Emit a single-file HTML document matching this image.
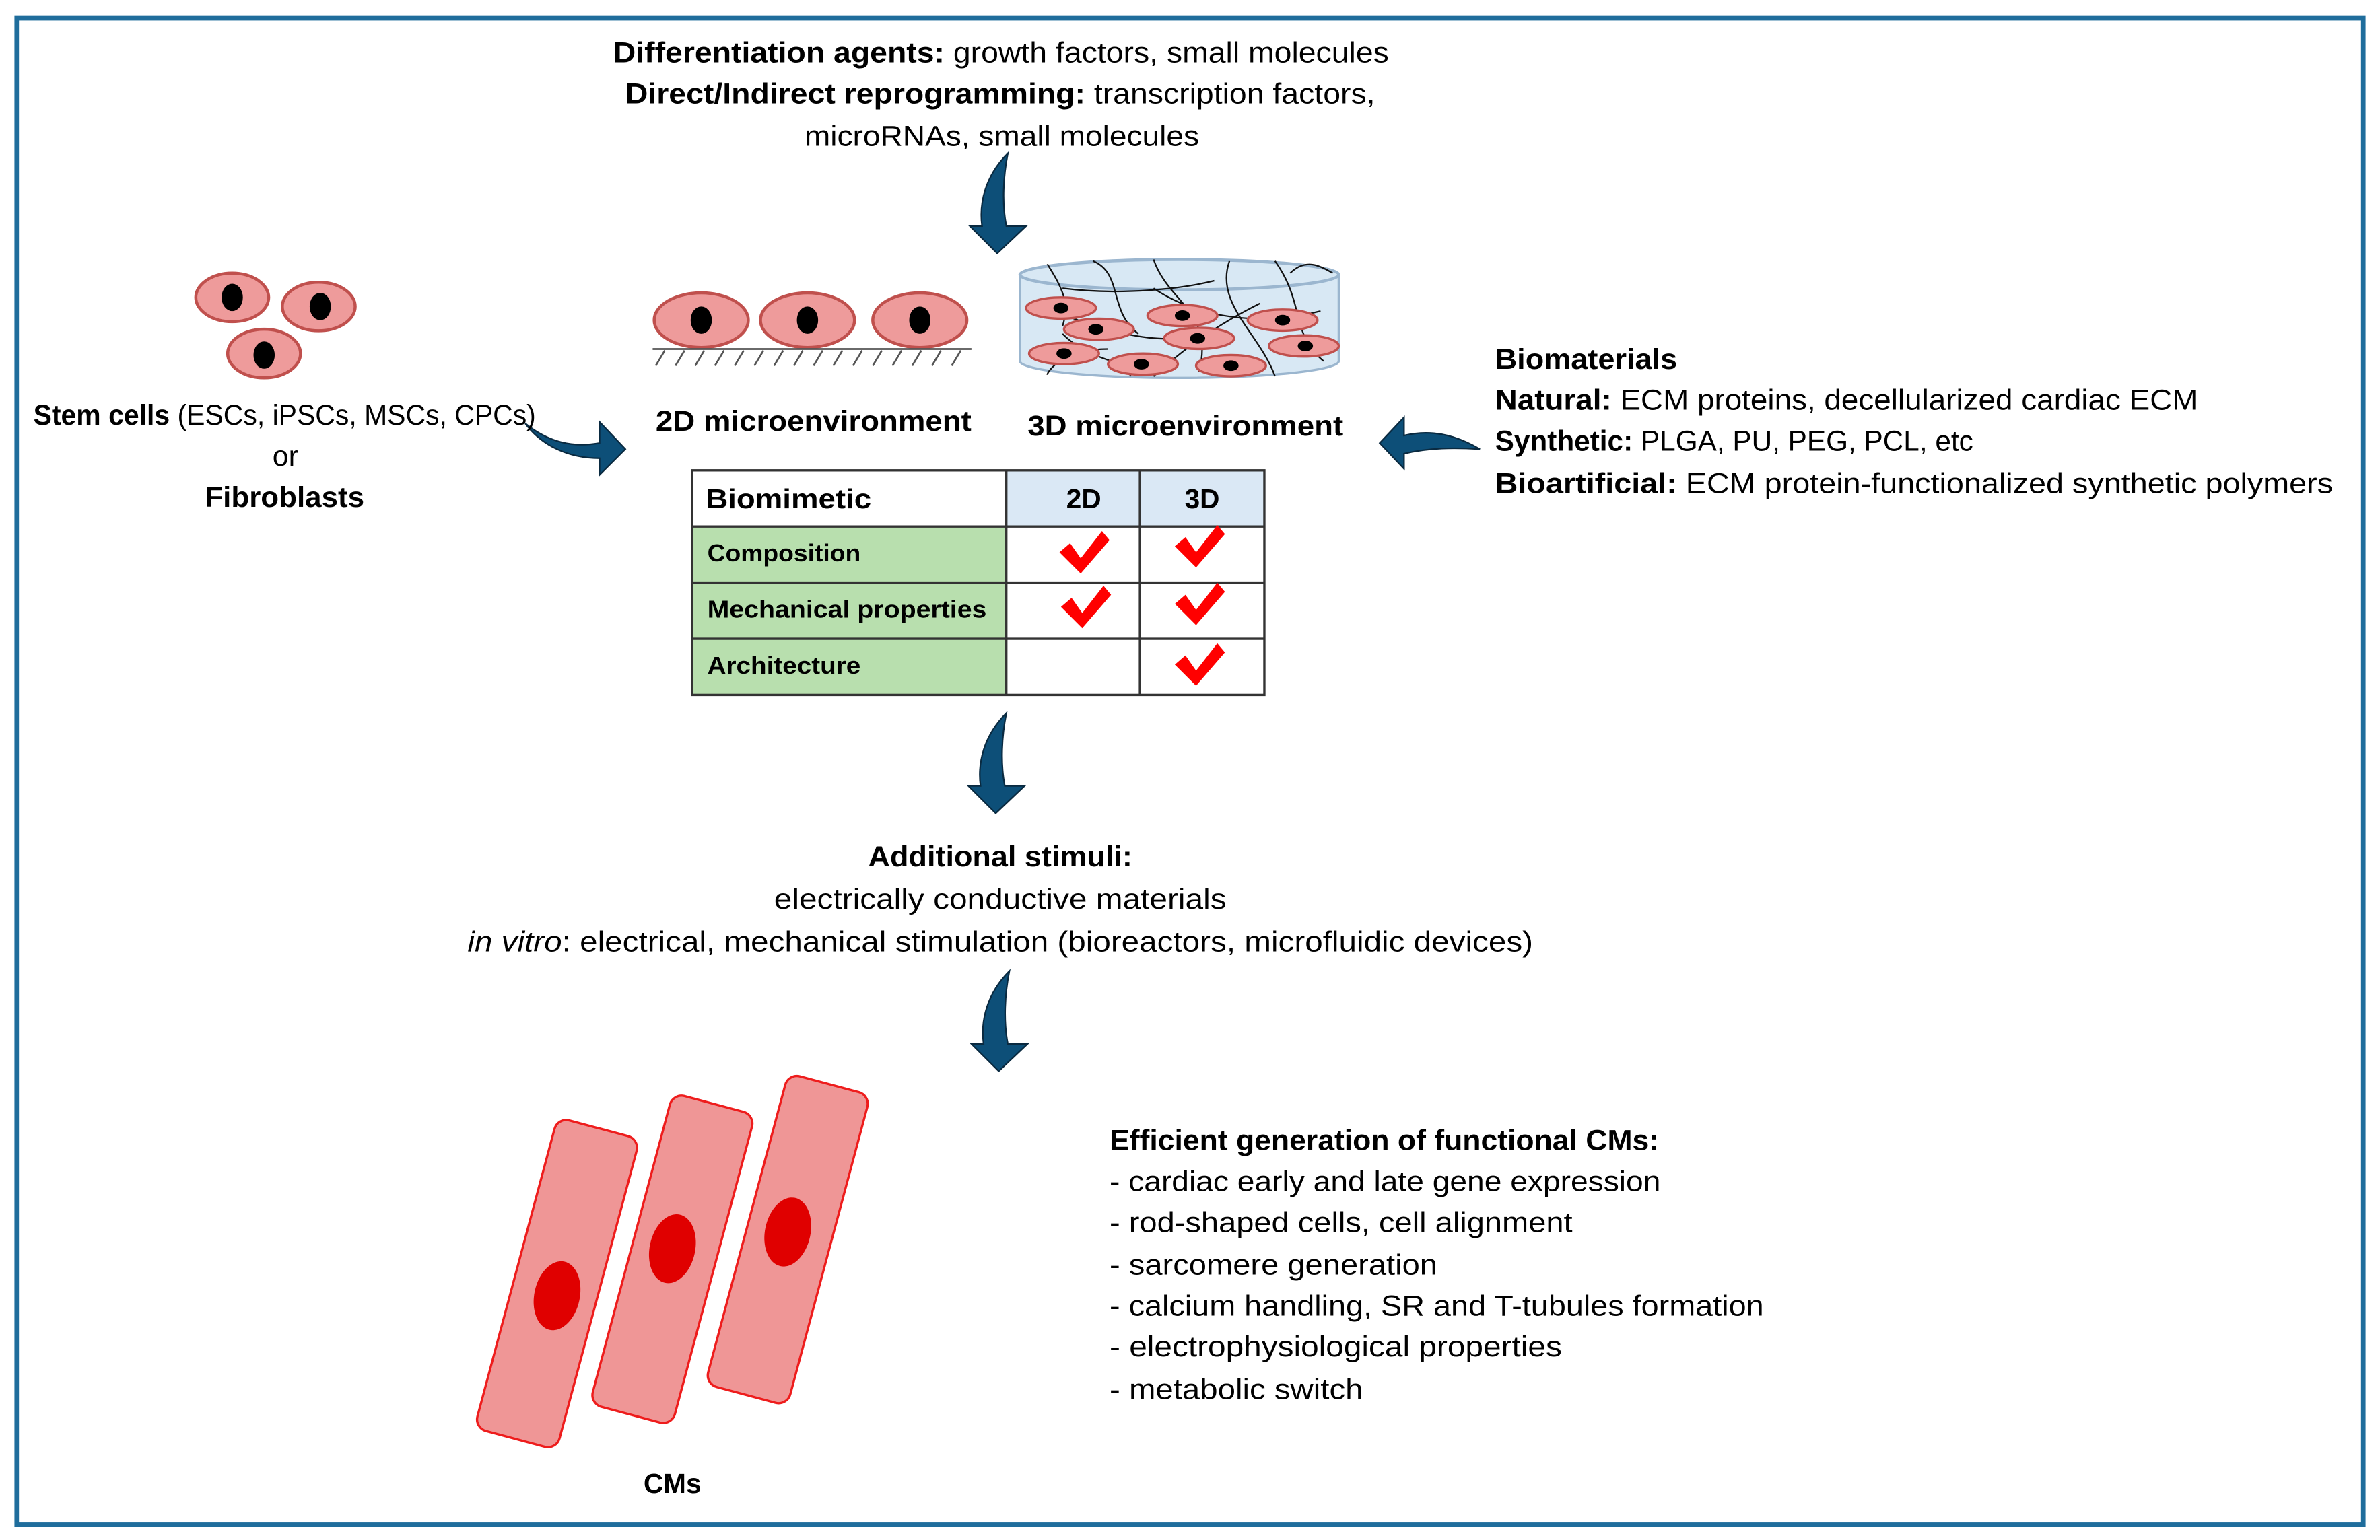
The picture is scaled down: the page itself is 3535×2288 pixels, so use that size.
<!DOCTYPE html>
<html><head><meta charset="utf-8">
<style>
html,body{margin:0;padding:0;background:#fff;}
svg{display:block;}
text{font-family:"Liberation Sans",sans-serif;fill:#000;}
</style></head>
<body>
<svg width="3535" height="2288" viewBox="0 0 1568 1015" preserveAspectRatio="none" xmlns="http://www.w3.org/2000/svg">
<defs>
<path id="darr" d="M664,101 C649,116 645,134 647,149 L639,149 L657,167 L676,149 L663,149 C660,134 661,116 664,101 Z"/>
<path id="chk" d="M-16,-2 L-9,-8 L-2,2 L12,-16 L17,-10 L-2,12 Z"/>
</defs>
<rect x="0" y="0" width="1568" height="1015" fill="#fff"/>
<rect x="11" y="12" width="1546" height="993" fill="none" stroke="#1f6d9c" stroke-width="3"/>

<text x="404" y="41" font-size="19" textLength="511" lengthAdjust="spacingAndGlyphs"><tspan font-weight="bold">Differentiation agents:</tspan> growth factors, small molecules</text>
<text x="412" y="68" font-size="19" textLength="494" lengthAdjust="spacingAndGlyphs"><tspan font-weight="bold">Direct/Indirect reprogramming:</tspan> transcription factors,</text>
<text x="530" y="96" font-size="19" textLength="260" lengthAdjust="spacingAndGlyphs">microRNAs, small molecules</text>

<g fill="#0d4f78" stroke="#0a2a40" stroke-width="1">
<use href="#darr"/>
<use href="#darr" transform="translate(-1,369)"/>
<use href="#darr" transform="translate(1,539)"/>
<path d="M346,279 C362,292 378,295 395,292 L395,278 L412,296 L395,313 L395,302 C375,302 357,294 346,279 Z"/>
<path d="M975,296 C958,286 942,283 925,287 L925,275 L909,292 L925,309 L925,299 C942,295 958,295 975,296 Z"/>
</g>

<g fill="#ee9b9b" stroke="#c0504d" stroke-width="2">
<ellipse cx="153" cy="196" rx="24" ry="16"/>
<ellipse cx="210" cy="202" rx="24" ry="16"/>
<ellipse cx="174" cy="233" rx="24" ry="16"/>
</g>
<g fill="#000">
<ellipse cx="153" cy="196" rx="7" ry="9"/>
<ellipse cx="211" cy="202" rx="7" ry="9"/>
<ellipse cx="174" cy="234" rx="7" ry="9"/>
</g>
<text x="22" y="280" font-size="19" textLength="331" lengthAdjust="spacingAndGlyphs"><tspan font-weight="bold">Stem cells</tspan> (ESCs, iPSCs, MSCs, CPCs)</text>
<text x="188" y="307" font-size="19" text-anchor="middle">or</text>
<text x="135" y="334" font-size="19" font-weight="bold" textLength="105" lengthAdjust="spacingAndGlyphs">Fibroblasts</text>

<g fill="#ee9b9b" stroke="#c0504d" stroke-width="2">
<ellipse cx="462" cy="211" rx="31" ry="18"/>
<ellipse cx="532" cy="211" rx="31" ry="18"/>
<ellipse cx="606" cy="211" rx="31" ry="18"/>
</g>
<g fill="#000">
<ellipse cx="462" cy="211" rx="7" ry="9"/>
<ellipse cx="532" cy="211" rx="7" ry="9"/>
<ellipse cx="606" cy="211" rx="7" ry="9"/>
</g>
<g stroke="#555" stroke-width="1.2">
<line x1="430" y1="230" x2="640" y2="230"/>
<path d="M432,241 L438,231 M445,241 L451,231 M458,241 L464,231 M471,241 L477,231 M484,241 L490,231 M497,241 L503,231 M510,241 L516,231 M523,241 L529,231 M536,241 L542,231 M549,241 L555,231 M562,241 L568,231 M575,241 L581,231 M588,241 L594,231 M601,241 L607,231 M614,241 L620,231 M627,241 L633,231"/>
</g>
<text x="432" y="284" font-size="19" font-weight="bold" textLength="208" lengthAdjust="spacingAndGlyphs">2D microenvironment</text>

<path d="M672,181 L672,238 A105,11 0 0 0 882,238 L882,181 Z" fill="#d8e8f4" stroke="#9bb6cf" stroke-width="1.5"/>
<ellipse cx="777" cy="181" rx="105" ry="10" fill="#d8e8f4" stroke="#9bb6cf" stroke-width="2"/>
<g fill="none" stroke="#111" stroke-width="1">
<path d="M690,174 C700,190 705,200 700,215"/>
<path d="M720,172 C740,180 730,205 750,220"/>
<path d="M760,171 C770,200 800,205 790,245"/>
<path d="M700,190 C740,195 780,190 800,185"/>
<path d="M810,172 C800,200 830,220 840,248"/>
<path d="M840,172 C860,200 850,220 872,238"/>
<path d="M680,200 C720,215 760,230 790,220"/>
<path d="M830,200 C800,215 780,230 760,248"/>
<path d="M700,220 C720,240 740,235 745,248"/>
<path d="M760,190 C790,210 830,215 870,205"/>
<path d="M850,180 C860,170 870,175 878,180"/>
<path d="M730,230 C700,230 690,245 690,247"/>
</g>
<g fill="#ee9b9b" stroke="#c0504d" stroke-width="1.5">
<ellipse cx="699" cy="203" rx="23" ry="7"/>
<ellipse cx="724" cy="217" rx="23" ry="7"/>
<ellipse cx="779" cy="208" rx="23" ry="7"/>
<ellipse cx="845" cy="211" rx="23" ry="7"/>
<ellipse cx="701" cy="233" rx="23" ry="7"/>
<ellipse cx="790" cy="223" rx="23" ry="7"/>
<ellipse cx="859" cy="228" rx="23" ry="7"/>
<ellipse cx="753" cy="240" rx="23" ry="7"/>
<ellipse cx="811" cy="241" rx="23" ry="7"/>
</g>
<g fill="#000">
<ellipse cx="699" cy="203" rx="5" ry="3.5"/>
<ellipse cx="722" cy="217" rx="5" ry="3.5"/>
<ellipse cx="779" cy="208" rx="5" ry="3.5"/>
<ellipse cx="845" cy="211" rx="5" ry="3.5"/>
<ellipse cx="701" cy="233" rx="5" ry="3.5"/>
<ellipse cx="789" cy="223" rx="5" ry="3.5"/>
<ellipse cx="860" cy="228" rx="5" ry="3.5"/>
<ellipse cx="752" cy="240" rx="5" ry="3.5"/>
<ellipse cx="811" cy="241" rx="5" ry="3.5"/>
</g>
<text x="677" y="287" font-size="19" font-weight="bold" textLength="208" lengthAdjust="spacingAndGlyphs">3D microenvironment</text>

<text x="985" y="243" font-size="19" font-weight="bold" textLength="120" lengthAdjust="spacingAndGlyphs">Biomaterials</text>
<text x="985" y="270" font-size="19" textLength="463" lengthAdjust="spacingAndGlyphs"><tspan font-weight="bold">Natural:</tspan> ECM proteins, decellularized cardiac ECM</text>
<text x="985" y="297" font-size="19" textLength="315" lengthAdjust="spacingAndGlyphs"><tspan font-weight="bold">Synthetic:</tspan> PLGA, PU, PEG, PCL, etc</text>
<text x="985" y="325" font-size="19" textLength="552" lengthAdjust="spacingAndGlyphs"><tspan font-weight="bold">Bioartificial:</tspan> ECM protein-functionalized synthetic polymers</text>

<rect x="663" y="310" width="170" height="37" fill="#dae8f5"/>
<rect x="456" y="347" width="207" height="111" fill="#b8dfae"/>
<g stroke="#333" stroke-width="1.5" fill="none">
<rect x="456" y="310" width="377" height="148"/>
<line x1="456" y1="347" x2="833" y2="347"/>
<line x1="456" y1="384" x2="833" y2="384"/>
<line x1="456" y1="421" x2="833" y2="421"/>
<line x1="663" y1="310" x2="663" y2="458"/>
<line x1="751" y1="310" x2="751" y2="458"/>
</g>
<text x="465" y="335" font-size="18" font-weight="bold" textLength="109" lengthAdjust="spacingAndGlyphs">Biomimetic</text>
<text x="714" y="335" font-size="18" font-weight="bold" text-anchor="middle">2D</text>
<text x="792" y="335" font-size="18" font-weight="bold" text-anchor="middle">3D</text>
<text x="466" y="370" font-size="16" font-weight="bold" textLength="101" lengthAdjust="spacingAndGlyphs">Composition</text>
<text x="466" y="407" font-size="16" font-weight="bold" textLength="184" lengthAdjust="spacingAndGlyphs">Mechanical properties</text>
<text x="466" y="444" font-size="16" font-weight="bold" textLength="101" lengthAdjust="spacingAndGlyphs">Architecture</text>
<g fill="#f00">
<use href="#chk" transform="translate(714,366)"/>
<use href="#chk" transform="translate(790,362)"/>
<use href="#chk" transform="translate(715,402)"/>
<use href="#chk" transform="translate(790,400)"/>
<use href="#chk" transform="translate(790,440)"/>
</g>

<text x="572" y="571" font-size="19" font-weight="bold" textLength="174" lengthAdjust="spacingAndGlyphs">Additional stimuli:</text>
<text x="510" y="599" font-size="19" textLength="298" lengthAdjust="spacingAndGlyphs">electrically conductive materials</text>
<text x="308" y="627" font-size="19" textLength="702" lengthAdjust="spacingAndGlyphs"><tspan font-style="italic">in vitro</tspan>: electrical, mechanical stimulation (bioreactors, microfluidic devices)</text>

<g fill="#ef9696" stroke="#ee1c1c" stroke-width="1.5">
<rect x="-28" y="-106" width="56" height="212" rx="8" transform="translate(367,846) rotate(15)"/>
<rect x="-28" y="-106" width="56" height="212" rx="8" transform="translate(443,830) rotate(15)"/>
<rect x="-28" y="-106" width="56" height="212" rx="8" transform="translate(519,817) rotate(15)"/>
</g>
<g fill="#e00000">
<ellipse cx="367" cy="854" rx="15" ry="23" transform="rotate(12 367 854)"/>
<ellipse cx="443" cy="823" rx="15" ry="23" transform="rotate(12 443 823)"/>
<ellipse cx="519" cy="812" rx="15" ry="23" transform="rotate(12 519 812)"/>
</g>
<text x="443" y="984" font-size="18" font-weight="bold" text-anchor="middle">CMs</text>

<text x="731" y="758" font-size="19" font-weight="bold" textLength="362" lengthAdjust="spacingAndGlyphs">Efficient generation of functional CMs:</text>
<text x="731" y="785" font-size="19" textLength="363" lengthAdjust="spacingAndGlyphs">- cardiac early and late gene expression</text>
<text x="731" y="812" font-size="19" textLength="305" lengthAdjust="spacingAndGlyphs">- rod-shaped cells, cell alignment</text>
<text x="731" y="840" font-size="19" textLength="216" lengthAdjust="spacingAndGlyphs">- sarcomere generation</text>
<text x="731" y="867" font-size="19" textLength="431" lengthAdjust="spacingAndGlyphs">- calcium handling, SR and T-tubules formation</text>
<text x="731" y="894" font-size="19" textLength="298" lengthAdjust="spacingAndGlyphs">- electrophysiological properties</text>
<text x="731" y="922" font-size="19" textLength="167" lengthAdjust="spacingAndGlyphs">- metabolic switch</text>
</svg>
</body></html>
